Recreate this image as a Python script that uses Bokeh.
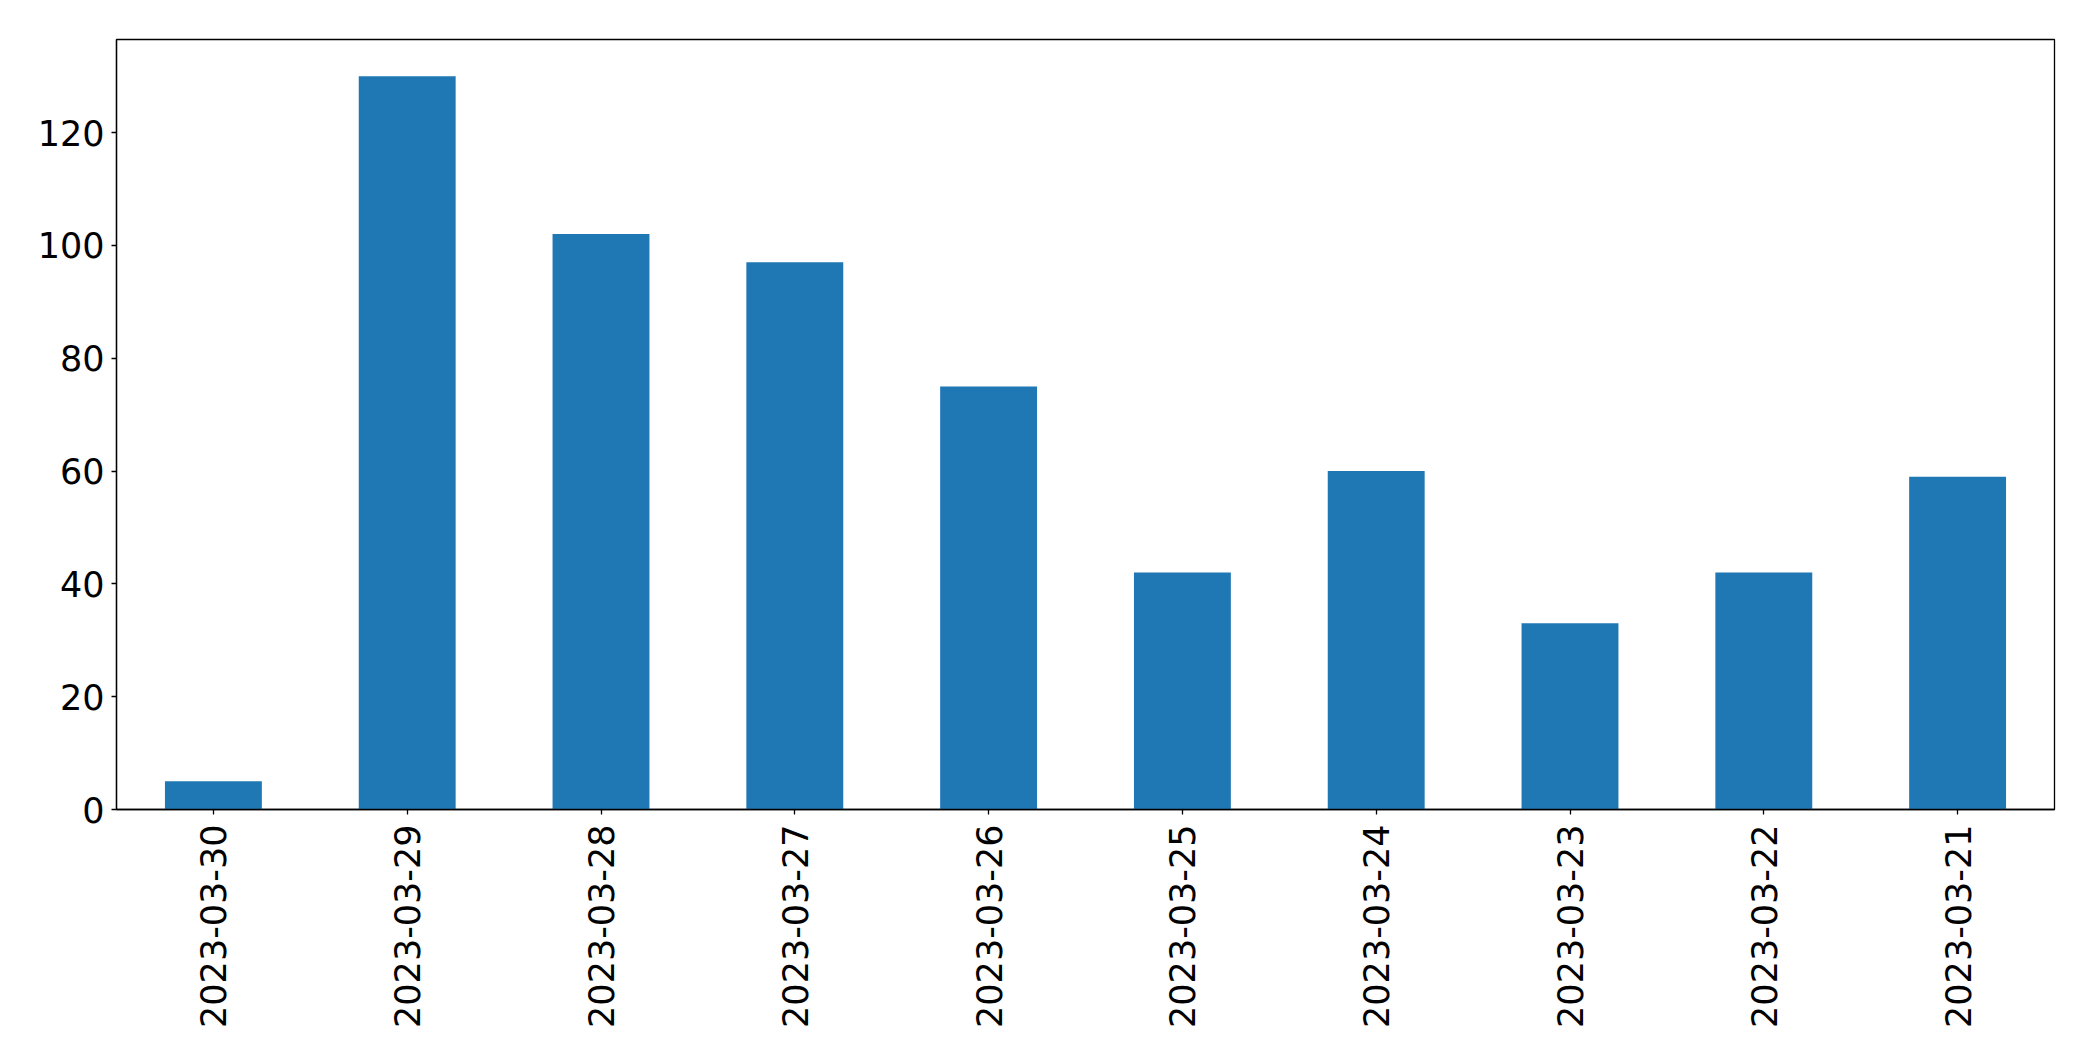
import math
from bokeh.plotting import figure
from bokeh.models import ColumnDataSource, FactorRange, Range1d, FixedTicker
from bokeh.embed import file_html
from bokeh.resources import INLINE

dates = ["2023-03-30", "2023-03-29", "2023-03-28", "2023-03-27", "2023-03-26",
         "2023-03-25", "2023-03-24", "2023-03-23", "2023-03-22", "2023-03-21"]
counts = [5, 130, 102, 97, 75, 42, 60, 33, 42, 59]
y_ticks = [0, 20, 40, 60, 80, 100, 120]

source = ColumnDataSource(data=dict(dates=dates, counts=counts))

p = figure(width=2077, height=1045, output_backend="svg", toolbar_location=None,
           x_range=FactorRange(factors=dates, range_padding=0, factor_padding=0),
           y_range=Range1d(0, max(counts) * 1.05),
           min_border_left=116, min_border_top=39, min_border_right=23, min_border_bottom=236)

p.vbar(x="dates", top="counts", width=0.5, source=source, color="#1f77b4", line_color=None)

p.xgrid.visible = False
p.ygrid.visible = False
p.outline_line_color = "black"
p.outline_line_width = 1.3
p.background_fill_color = "white"
p.border_fill_color = "white"

for ax in (p.xaxis, p.yaxis):
    ax.major_label_text_font = "DejaVu Sans"
    ax.major_label_text_font_size = "35px"
    ax.major_label_text_color = "black"
    ax.major_tick_out = 5
    ax.major_tick_in = 0
    ax.minor_tick_out = 0
    ax.minor_tick_in = 0
    ax.axis_line_color = "black"
    ax.axis_line_width = 1.3
    ax.major_tick_line_width = 1.3

p.yaxis.ticker = FixedTicker(ticks=y_ticks)
p.yaxis.major_label_standoff = 7
p.xaxis.major_label_orientation = math.pi / 2
p.xaxis.major_label_standoff = 10

open("out.html", "w").write(file_html(p, INLINE))
